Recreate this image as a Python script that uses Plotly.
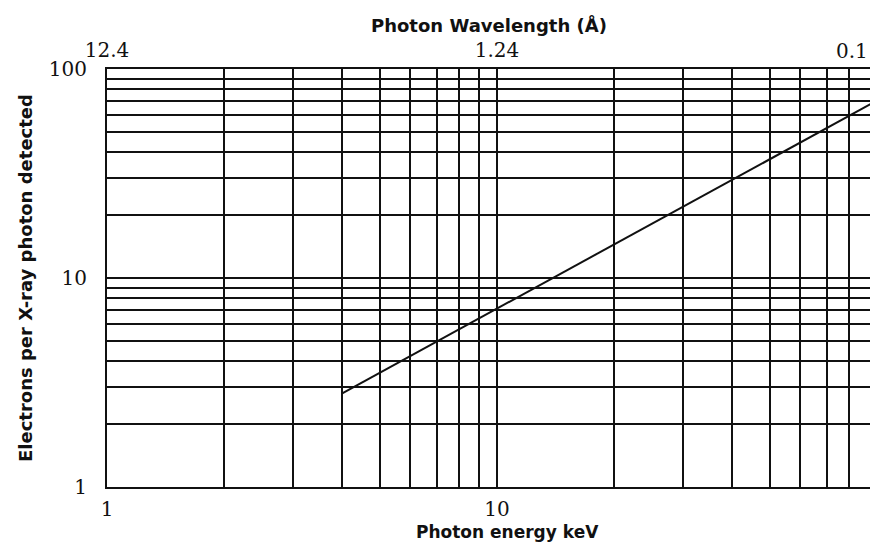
import math
import plotly.graph_objects as go

# Data
energy_kev = [4, 100]
electrons = [2.8, 75]

x_grid_vals = [1, 2, 3, 4, 5, 6, 7, 8, 9, 10, 20, 30, 40, 50, 60, 70, 80, 90, 100]
x_grid_text = ["1", "", "", "", "", "", "", "", "", "10", "", "", "", "", "", "", "", "", "100"]
y_grid_vals = [1, 2, 3, 4, 5, 6, 7, 8, 9, 10, 20, 30, 40, 50, 60, 70, 80, 90, 100]
y_grid_text = ["1", "", "", "", "", "", "", "", "", "10", "", "", "", "", "", "", "", "", "100"]
top_vals = [1, 10, 100]
top_text = ["12.4", "1.24", "0.124"]

x_max = 90.5
xr = [0, math.log10(x_max)]

ink = "#111111"
tick_font = dict(family="DejaVu Serif", size=20, color=ink)
title_font = dict(family="DejaVu Sans", size=18, color=ink)
bottom_title_font = dict(family="DejaVu Sans", size=17, color=ink)

fig = go.Figure()
fig.add_trace(go.Scatter(x=energy_kev, y=electrons, mode="lines",
                         line=dict(color=ink, width=2), showlegend=False,
                         hoverinfo="skip"))
fig.add_trace(go.Scatter(x=[1, 10], y=[1, 1], xaxis="x2", mode="lines",
                         line=dict(width=0), opacity=0, showlegend=False,
                         hoverinfo="skip"))

fig.update_layout(
    width=871, height=544,
    margin=dict(l=107, r=1, t=69, b=57, autoexpand=False),
    paper_bgcolor="white", plot_bgcolor="white",
    xaxis=dict(type="log", range=xr, tickmode="array", tickvals=x_grid_vals,
               ticktext=x_grid_text, showgrid=True, gridcolor=ink, gridwidth=1.6,
               showline=True, linecolor=ink, linewidth=2, ticks="",
               tickfont=tick_font, ticklabelstandoff=3, zeroline=False,
               automargin=False),
    xaxis2=dict(type="log", range=xr, overlaying="x", side="top", tickmode="array",
                tickvals=top_vals, ticktext=top_text, showgrid=False,
                showline=True, linecolor=ink, linewidth=2, ticks="",
                tickfont=tick_font, ticklabelstandoff=2, automargin=False),
    yaxis=dict(type="log", range=[0, 2], tickmode="array", tickvals=y_grid_vals,
               ticktext=y_grid_text, showgrid=True, gridcolor=ink, gridwidth=1.6,
               showline=True, linecolor=ink, linewidth=2, ticks="",
               tickfont=tick_font, ticklabelstandoff=14, zeroline=False,
               automargin=False),
    annotations=[
        dict(text="<b>Photon Wavelength (Å)</b>", xref="paper", yref="paper",
             x=0.5, y=1.0, yshift=44, showarrow=False, font=title_font,
             xanchor="center", yanchor="middle"),
        dict(text="<b>Photon energy keV</b>", xref="paper", yref="paper",
             x=0.525, y=0.0, yshift=-45, showarrow=False, font=bottom_title_font,
             xanchor="center", yanchor="middle"),
        dict(text="<b>Electrons per X-ray photon detected</b>", xref="paper",
             yref="paper", x=0.0, xshift=-82, y=0.5, showarrow=False,
             font=title_font, textangle=-90, xanchor="center", yanchor="middle"),
        dict(text="0.1", xref="paper", yref="paper", x=1.0, y=1.0, yshift=4,
             showarrow=False, font=tick_font, xanchor="right", yanchor="bottom"),
    ],
)

fig.write_html("out.html", config={"displayModeBar": False},
               post_script="document.body.style.margin='0';")
